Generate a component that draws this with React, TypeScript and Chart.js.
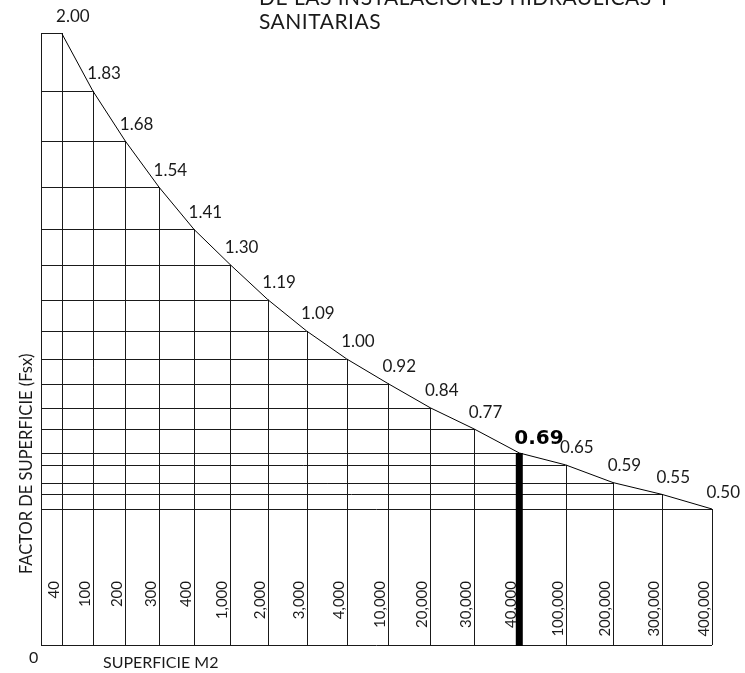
import React, { useEffect, useRef } from 'react';
import { Chart, LineController, LineElement, PointElement, LinearScale } from 'chart.js';

// ---- data ----
const superficie = ['40', '100', '200', '300', '400', '1,000', '2,000', '3,000', '4,000', '10,000', '20,000', '30,000', '40,000', '100,000', '200,000', '300,000', '400,000'];
const factor = [2.0, 1.83, 1.68, 1.54, 1.41, 1.3, 1.19, 1.09, 1.0, 0.92, 0.84, 0.77, 0.69, 0.65, 0.59, 0.55, 0.5];
const highlighted = '40,000';
const titleLines = ['DE LAS INSTALACIONES HIDRAULICAS Y', 'SANITARIAS'];
const yTitle = 'FACTOR DE SUPERFICIE (Fsx)';
const xTitle = 'SUPERFICIE M2';
const originLabel = '0';

// Linear scale with a mild quadratic warp (drawing is not strictly proportional)
class WarpScale extends LinearScale {
  static id = 'warp';
  static defaults = { ticks: { callback: (v: any) => String(v) } };
  getPixelForValue(value: number) {
    const d = (value - this.min) / (this.max - this.min);
    const k = (this.options as any).warp || 0;
    if (this.isHorizontal()) {
      const w = (1 - k) * d + k * d * d;
      return this.left + w * this.width;
    }
    const t = 1 - d;
    const w = (1 - k) * t + k * t * t;
    return this.top + w * this.height;
  }
  getValueForPixel(pixel: number) {
    const k = (this.options as any).warp || 0;
    const horiz = this.isHorizontal();
    const w = horiz ? (pixel - this.left) / this.width : (pixel - this.top) / this.height;
    let t = w;
    if (Math.abs(k) > 1e-9) {
      const b = 1 - k;
      t = (-b + Math.sqrt(b * b + 4 * k * w)) / (2 * k);
    }
    const d = horiz ? t : 1 - t;
    return this.min + d * (this.max - this.min);
  }
}

Chart.register(LineController, LineElement, PointElement, LinearScale, WarpScale);

const drawingPlugin = {
  id: 'drawing',
  beforeDatasetsDraw(chart: any) {
    const { ctx, chartArea, scales } = chart;
    const xs = scales.x;
    const ys = scales.y;
    const left = chartArea.left;
    const bottom = chartArea.bottom;
    ctx.save();
    ctx.strokeStyle = '#1a1a1a';
    ctx.lineWidth = 1;
    const snap = (v: number) => Math.round(v) + 0.5;
    // drop lines
    factor.forEach((v, i) => {
      const px = xs.getPixelForValue(i);
      const py = ys.getPixelForValue(v);
      ctx.beginPath();
      ctx.moveTo(left, snap(py));
      ctx.lineTo(px, snap(py));
      ctx.stroke();
      if (superficie[i] !== highlighted) {
        ctx.beginPath();
        ctx.moveTo(snap(px), py);
        ctx.lineTo(snap(px), bottom);
        ctx.stroke();
      }
    });
    // left border and base line
    const topY = ys.getPixelForValue(factor[0]);
    const lastX = xs.getPixelForValue(factor.length - 1);
    ctx.beginPath();
    ctx.moveTo(snap(left), topY);
    ctx.lineTo(snap(left), bottom);
    ctx.moveTo(left, snap(bottom));
    ctx.lineTo(lastX, snap(bottom));
    ctx.stroke();
    ctx.restore();
  },
  afterDatasetsDraw(chart: any) {
    const { ctx, chartArea, scales } = chart;
    const xs = scales.x;
    const ys = scales.y;
    const bottom = chartArea.bottom;
    ctx.save();
    // highlighted thick bar
    const hi = superficie.indexOf(highlighted);
    if (hi >= 0) {
      const px = xs.getPixelForValue(hi);
      const py = ys.getPixelForValue(factor[hi]);
      ctx.fillStyle = '#000';
      ctx.fillRect(px - 3.5, py, 7, bottom - py + 1);
    }
    ctx.fillStyle = '#1a1a1a';
    // value labels
    factor.forEach((v, i) => {
      const px = xs.getPixelForValue(i);
      const py = ys.getPixelForValue(v);
      ctx.textAlign = 'left';
      ctx.textBaseline = 'alphabetic';
      if (i === hi) {
        ctx.font = 'bold 20px "DejaVu Sans"';
        ctx.fillStyle = '#000';
        ctx.fillText(v.toFixed(2), px - 5, py - 9);
        ctx.fillStyle = '#1a1a1a';
      } else {
        ctx.font = '17px Lato';
        ctx.fillText(v.toFixed(2), px - 5.5, py - 11.5);
      }
    });
    // category labels, rotated, inside the plot
    ctx.font = '15px Lato';
    superficie.forEach((lab, i) => {
      const px = xs.getPixelForValue(i);
      ctx.save();
      ctx.translate(px - 3, 581);
      ctx.rotate(-Math.PI / 2);
      ctx.textAlign = 'right';
      ctx.textBaseline = 'alphabetic';
      ctx.fillText(lab, 0, 0);
      ctx.restore();
    });
    // y title
    ctx.font = '16.5px Lato';
    ctx.save();
    ctx.translate(32, 574);
    ctx.rotate(-Math.PI / 2);
    ctx.textAlign = 'left';
    ctx.textBaseline = 'alphabetic';
    ctx.fillText(yTitle, 0, 0);
    ctx.restore();
    // x title and origin
    ctx.font = '16px Lato';
    ctx.textAlign = 'left';
    ctx.textBaseline = 'alphabetic';
    ctx.fillText(xTitle, 103, 668);
    ctx.fillText(originLabel, 29, 663);
    // chart title (first line partly above the page)
    ctx.font = '21px Lato';
    (ctx as any).letterSpacing = '0.5px';
    titleLines.forEach((t, i) => {
      ctx.fillText(t, 259, 5 + i * 24);
    });
    (ctx as any).letterSpacing = '0px';
    ctx.restore();
  },
};

export default function App() {
  const ref = useRef<HTMLCanvasElement>(null);
  useEffect(() => {
    if (!ref.current) return;
    const chart = new Chart(ref.current, {
      type: 'line',
      data: {
        datasets: [
          {
            data: factor.map((v, i) => ({ x: i, y: v })),
            borderColor: '#000',
            borderWidth: 1,
            pointRadius: 0,
            tension: 0,
            fill: false,
          },
        ],
      },
      options: {
        animation: false,
        responsive: true,
        maintainAspectRatio: false,
        events: [],
        layout: { padding: { left: 41, right: 33, top: 33, bottom: 28 } },
        plugins: {
          legend: { display: false },
          tooltip: { enabled: false },
          title: { display: false },
        },
        scales: {
          x: { type: 'warp', warp: 0.26, min: -0.68, max: 16, display: false } as any,
          y: { type: 'warp', warp: -0.11, min: 0.02, max: 2, display: false } as any,
        },
      },
      plugins: [drawingPlugin],
    });
    return () => chart.destroy();
  }, []);
  return (
    <div style={{ position: 'absolute', left: 0, top: 0, width: 745, height: 673, background: '#fff' }}>
      <canvas ref={ref} />
    </div>
  );
}
